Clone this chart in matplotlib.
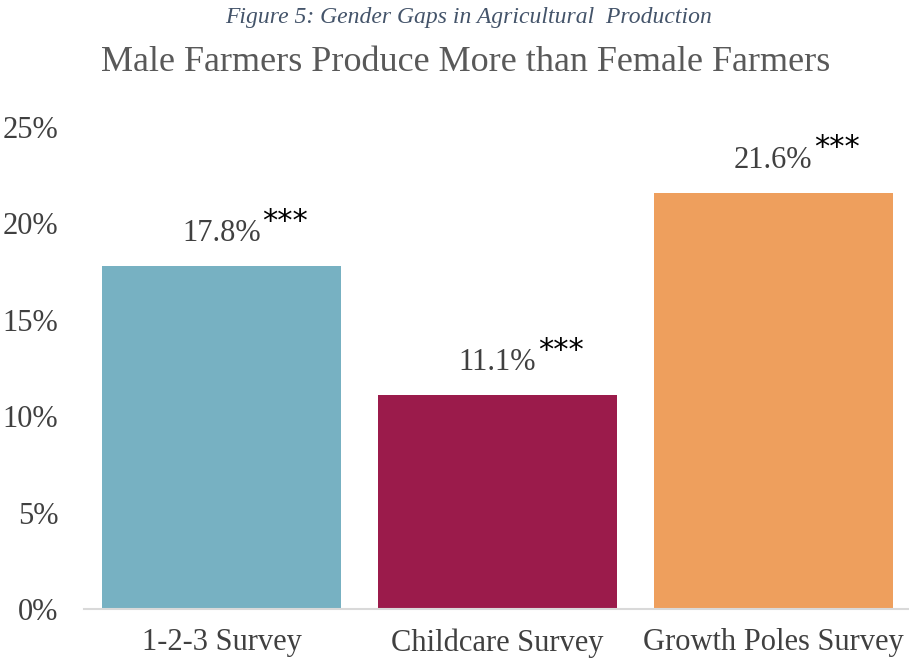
import numpy as np
import matplotlib.pyplot as plt

# gender gap in production, percent
surveys = ['1-2-3 Survey', 'Childcare Survey', 'Growth Poles Survey']
gaps = [17.8, 11.1, 21.6]
stars = ['***', '***', '***']
colors = ['#77B1C2', '#9B1B4B', '#EE9F5D']
yticks = [0, 5, 10, 15, 20, 25]

plt.rcParams['font.family'] = ['Liberation Serif', 'DejaVu Serif']

fig = plt.figure(figsize=(9.09, 6.61), dpi=100)
ax = fig.add_axes([0.0924, 0.0787, 0.91, 0.729])

x = np.arange(len(surveys))
bars = ax.bar(x, gaps, width=0.866, color=colors)

for xi, v, s in zip(x, gaps, stars):
    t = ax.annotate('%.1f%%' % v, xy=(xi, v), xytext=(0, 13), textcoords='offset points',
                    ha='center', va='bottom', fontsize=22, color='#404040')
    ax.annotate(s, xy=(1, 0.42), xycoords=t, xytext=(1, 0), textcoords='offset points',
                ha='left', va='bottom', fontsize=22, color='black', family='DejaVu Sans')

ax.set_xlim(-0.5, 2.5)
ax.set_ylim(0, 25)
ax.set_yticks(yticks)
ax.set_yticklabels(['%d%%' % t for t in yticks])
ax.set_xticks(x)
ax.set_xticklabels(surveys)
ax.tick_params(axis='both', length=0, labelsize=22, labelcolor='#404040')
ax.tick_params(axis='y', pad=18.5)
ax.tick_params(axis='x', pad=14)

for side in ['top', 'right', 'left']:
    ax.spines[side].set_visible(False)
ax.spines['bottom'].set_color('#D9D9D9')
ax.spines['bottom'].set_linewidth(1.5)

fig.text(0.515, 0.974, 'Figure 5: Gender Gaps in Agricultural  Production', ha='center', va='center',
         fontsize=17, style='italic', color='#44546A')
fig.text(0.512, 0.905, 'Male Farmers Produce More than Female Farmers', ha='center', va='center',
         fontsize=26, color='#595959')

fig.savefig('out.png', dpi=100)
